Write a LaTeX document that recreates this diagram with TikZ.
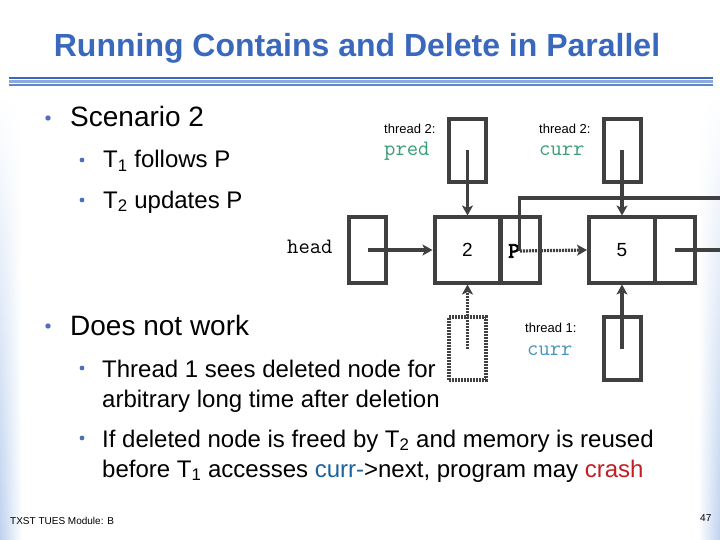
\documentclass[tikz,border=0pt]{standalone}
\usepackage{fontspec}
\setmainfont{Liberation Sans}
\newfontfamily\boldcour{Latin Modern Mono}[FakeBold=4]
\usetikzlibrary{arrows.meta,positioning,fadings}
\definecolor{titleblue}{RGB}{58,104,188}
\definecolor{rulelight}{RGB}{140,170,220}
\definecolor{bulletblue}{RGB}{78,112,180}
\definecolor{boxgray}{RGB}{64,64,64}
\definecolor{predgreen}{RGB}{56,158,118}
\definecolor{currcyan}{RGB}{72,148,188}
\definecolor{textblue}{RGB}{28,98,158}
\definecolor{crashred}{RGB}{196,30,36}
\definecolor{edgeblue}{RGB}{190,210,238}

\begin{document}
\begin{tikzpicture}[x=1pt, y=-1pt, >={Stealth[length=10pt,width=11pt,inset=2.5pt]},
    ptrbox/.style={draw=boxgray, line width=4pt, minimum width=37pt,
                   minimum height=63pt, inner sep=0pt},
    keybox/.style={ptrbox, minimum width=66pt, minimum height=65pt},
    nextbox/.style={ptrbox, minimum width=40pt, minimum height=65pt},
    ghostbox/.style={ptrbox, dash pattern=on 2pt off 1pt},
    ptr/.style={->, draw=boxgray, line width=3.2pt},
    txt/.style={anchor=base west, inner sep=0pt},
    big/.style={txt, font=\fontsize{28}{32}\selectfont},
    mid/.style={txt, font=\fontsize{24}{28}\selectfont},
    tlabel/.style={txt, font=\fontsize{13}{15}\selectfont},
    code/.style={txt, font=\ttfamily\fontsize{22}{24}\selectfont}]

    \useasboundingbox (0,0) rectangle (720,540);

    % Bords bleutés
    \shade[left color=edgeblue, right color=white, path fading=north] (0,95) rectangle (22,540);
    \shade[left color=white, right color=edgeblue, path fading=north] (698,95) rectangle (720,540);

    % Titre
    \node[font=\bfseries\fontsize{32}{36}\selectfont, text=titleblue] (title) at (357,48)
        {Running Contains and Delete in Parallel};
    \draw[titleblue, line width=1.5pt] (9,78) -- (713,78);
    \draw[rulelight, line width=3pt] (9,81.5) -- (713,81.5);
    \draw[titleblue!80, line width=1.5pt] (9,85) -- (713,85);

    % Puces
    \foreach \y in {118, 326} \fill[bulletblue] (48,\y) circle (2.7);
    \foreach \y in {160, 200, 368, 438} \fill[bulletblue] (82,\y) circle (2.4);

    % Textes
    \node[big] (scen) at (70,127) {Scenario 2};
    \node[mid] (tfollow) at (103,168) {T\textsubscript{1} follows P};
    \node[mid] (tupdate) at (103,208) {T\textsubscript{2} updates P};
    \node[big] (dnw) at (70,335) {Does not work};
    \node[mid] (tsees) at (102,377) {Thread 1 sees deleted node for};
    \node[mid] (tsees2) at (102,407) {arbitrary long time after deletion};
    \node[mid] (ifdel) at (102,447) {If deleted node is freed by T\textsubscript{2} and memory is reused};
    \node[mid] (ifdel2) at (102,477) {before T\textsubscript{1} accesses
        \textcolor{textblue}{curr-}>next, program may \textcolor{crashred}{crash}};

    % Liste chaînée
    \node[code] (headlbl) at (287,254) {head};
    \node[ptrbox, minimum height=65pt] (head) at (367.5,250) {};
    \node[keybox] (key2) at (467.5,250) {\fontsize{19}{21}\selectfont 2};
    \node[nextbox] (next2) at (520,250) {};
    \node[keybox] (key5) at (622,250) {\fontsize{19}{21}\selectfont 5};
    \node[nextbox] (next5) at (675,250) {};
    \node[inner sep=0pt, font=\boldcour\fontsize{22}{24}\selectfont] (pp) at (514,251) {P};

    % Pointeurs du thread 2
    \node[ptrbox] (pred) at (467.5,150.5) {};
    \node[tlabel] (predt) at (384,134) {thread 2:};
    \node[code, text=predgreen] (predl) at (384,156) {pred};
    \node[ptrbox] (curr2) at (622,150.5) {};
    \node[tlabel] (currt) at (539,134) {thread 2:};
    \node[code, text=predgreen] (currl) at (539,156) {curr};

    % Pointeurs du thread 1
    \node[ghostbox] (ghost) at (467.5,348.5) {};
    \node[ptrbox] (curr1) at (622,348.5) {};
    \node[tlabel] (curr1t) at (525,332) {thread 1:};
    \node[code, text=currcyan] (curr1l) at (527,355) {curr};

    % Flèches
    \coordinate (offA) at (720,198);
    \coordinate (offB) at (720,250);
    \draw[ptr] (head.center) -- (key2.west);
    \draw[ptr] (pred.center) -- (key2.north);
    \draw[ptr] (curr2.center) -- (key5.north);
    \draw[ptr] (curr1.center) -- (key5.south);
    \draw[ptr, dash pattern=on 2pt off 1pt] (ghost.center) -- (key2.south);
    \draw[ptr, dash pattern=on 2pt off 1pt] (pp.east) -- (key5.west);
    \draw[boxgray, line width=3.2pt] (pp.east) |- (offA);
    \draw[boxgray, line width=3.2pt] (next5.center) -- (offB);

    % Pied de page
    \node[txt, font=\fontsize{10}{12}\selectfont] (foot) at (10,524) {TXST TUES Module: B};
    \node[txt, font=\fontsize{10}{12}\selectfont] (pgnum) at (700,521) {47};
\end{tikzpicture}
\end{document}
